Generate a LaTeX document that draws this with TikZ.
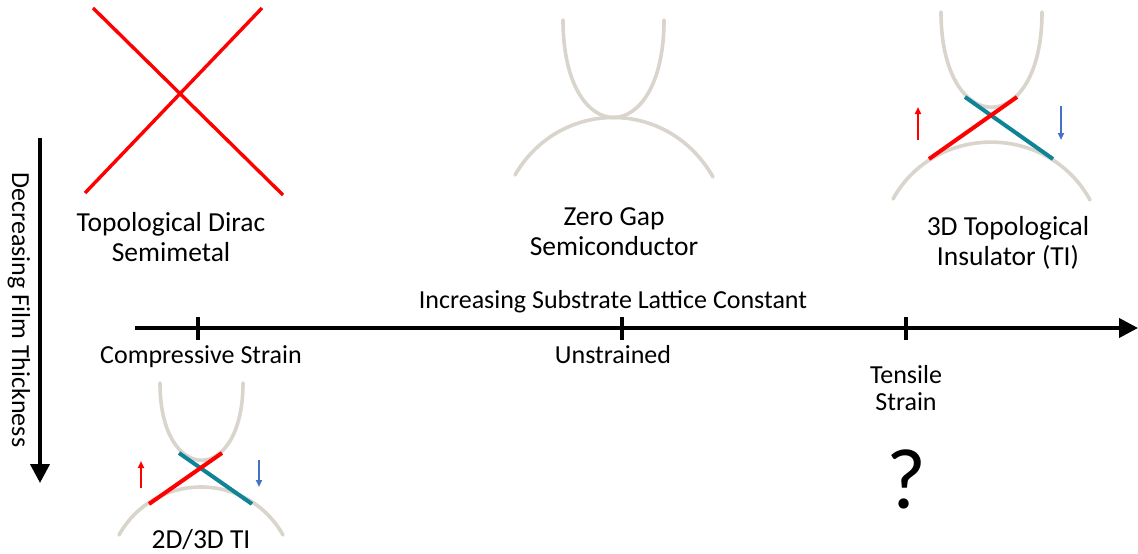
\documentclass[tikz,border=0pt]{standalone}
\usepackage{fontspec}
\setmainfont{Carlito}
\usetikzlibrary{arrows.meta}
\definecolor{bandgrey}{RGB}{217,212,204}
\definecolor{spinred}{RGB}{255,0,0}
\definecolor{spinteal}{RGB}{14,132,150}
\definecolor{spinblue}{RGB}{68,114,196}
\tikzset{
  band/.style={draw=bandgrey, line width=3.6pt, line cap=round},
  dirac/.style={draw=spinred, line width=3.4pt},
  edgered/.style={draw=spinred, line width=4pt},
  edgeteal/.style={draw=spinteal, line width=4pt},
  spinup/.style={draw=spinred, line width=1.8pt, -{Triangle[length=7pt,width=6pt]}},
  spindown/.style={draw=spinblue, line width=1.8pt, -{Triangle[length=7pt,width=6pt]}},
  axis/.style={draw=black, line width=4pt, -{Triangle[length=19pt,width=19pt]}},
  tick/.style={draw=black, line width=4pt},
  label/.style={font=\fontsize{27.5}{30}\selectfont, align=center, inner sep=0pt},
  small/.style={font=\fontsize{26}{27}\selectfont, align=center, inner sep=0pt},
}
\begin{document}
\begin{tikzpicture}[x=1pt, y=-1pt]
\useasboundingbox (0,0) rectangle (1138,554);

% Topological Dirac semimetal: linear crossing
\coordinate (d1a) at (93,8);   \coordinate (d1b) at (283,195);
\coordinate (d2a) at (262,8);  \coordinate (d2b) at (85,193);
\draw[dirac] (d1a) -- (d1b);
\draw[dirac] (d2a) -- (d2b);
\node[label] (dirac) at (171,237) {Topological Dirac\\Semimetal};

% Zero gap semiconductor: touching bands
\coordinate (zcl) at (563,20); \coordinate (zcr) at (664,20);
\coordinate (zvl) at (515,175); \coordinate (zvr) at (713,177);
\draw[band] (zcl) .. controls (563,150) and (664,150) .. (zcr);
\draw[band] (zvl) .. controls (560,98) and (668,98) .. (zvr);
\node[label] (zgs) at (614,232) {Zero Gap\\Semiconductor};

% 3D topological insulator: gapped bulk with surface states
\coordinate (tcl) at (941,12); \coordinate (tcr) at (1042,12);
\coordinate (tvl) at (893,199); \coordinate (tvr) at (1090,200);
\draw[band] (tcl) .. controls (941,139) and (1042,139) .. (tcr);
\draw[band] (tvl) .. controls (935,123) and (1048,123) .. (tvr);
\coordinate (tra) at (929,159); \coordinate (trb) at (1017,97);
\coordinate (tta) at (965,97);  \coordinate (ttb) at (1053,159);
\draw[edgeteal] (tta) -- (ttb);
\draw[edgered] (tra) -- (trb);
\coordinate (tua) at (918,140); \coordinate (tub) at (918,107);
\coordinate (tda) at (1061,106); \coordinate (tdb) at (1061,140);
\draw[spinup] (tua) -- (tub);
\draw[spindown] (tda) -- (tdb);
\node[label] (ti3d) at (1008,243) {3D Topological\\Insulator (TI)};

% 2D/3D topological insulator under compressive strain
\coordinate (bcl) at (160,383); \coordinate (bcr) at (243,383);
\coordinate (bvl) at (119,535); \coordinate (bvr) at (283,535);
\draw[band] (bcl) .. controls (160,486) and (243,486) .. (bcr);
\draw[band] (bvl) .. controls (155,471) and (247,471) .. (bvr);
\coordinate (bra) at (149,504); \coordinate (brb) at (222,453);
\coordinate (bta) at (179,453); \coordinate (btb) at (252,504);
\draw[edgeteal] (bta) -- (btb);
\draw[edgered] (bra) -- (brb);
\coordinate (bua) at (141,488); \coordinate (bub) at (141,461);
\coordinate (bda) at (259,460); \coordinate (bdb) at (259,487);
\draw[spinup] (bua) -- (bub);
\draw[spindown] (bda) -- (bdb);
\node[label] (ti2d) at (201,540) {2D/3D TI};

% Strain axis
\coordinate (hstart) at (135,328); \coordinate (hend) at (1138,328);
\draw[axis] (hstart) -- (hend);
\foreach \tx/\tn in {198/tc, 622/tu, 906/tt} {
  \coordinate (\tn a) at (\tx,317); \coordinate (\tn b) at (\tx,340);
  \draw[tick] (\tn a) -- (\tn b);
}
\node[small] (incr) at (613,302) {Increasing Substrate Lattice Constant};
\node[small] (comp) at (201,357) {Compressive Strain};
\node[small] (unst) at (613,355) {Unstrained};
\node[small] (tens) at (906,388) {Tensile\\Strain};
\node[font=\fontsize{86}{90}\selectfont, inner sep=0pt] (quest) at (906,479) {?};

% Thickness axis
\coordinate (vstart) at (40,138); \coordinate (vend) at (40,483);
\draw[axis] (vstart) -- (vend);
\node[small, rotate=-90] (thick) at (19,310) {Decreasing Film Thickness};
\end{tikzpicture}
\end{document}
